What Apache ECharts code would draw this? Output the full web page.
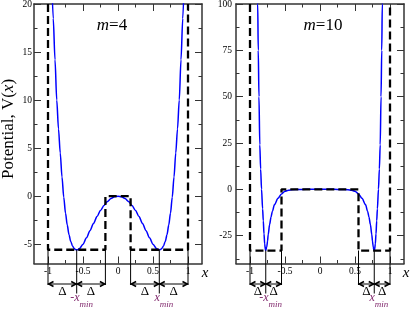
<!DOCTYPE html>
<html><head><meta charset="utf-8">
<script src="https://cdn.jsdelivr.net/npm/echarts@6/dist/echarts.min.js"></script>
<style>html,body{margin:0;padding:0;background:#fff}#c{width:411px;height:310px}</style>
</head><body><div id="c"></div>
<script>
// ---- tick values ----
const xTicks = [-1, -0.5, 0, 0.5, 1];
const xMinorTicks = [-0.75, -0.25, 0.25, 0.75];
const yTicks4 = [-5, 0, 5, 10, 15, 20];
const yMinorTicks4 = [-2.5, 2.5, 7.5, 12.5, 17.5];
const yTicks10 = [-25, 0, 25, 50, 75, 100];
const yMinorTicks10 = [-37.5, -12.5, 12.5, 37.5, 62.5, 87.5];

// ---- m = 4 potential ----
const x4 = [-0.95,-0.925,-0.9,-0.875,-0.85,-0.825,-0.8,-0.775,-0.75,-0.725,-0.7,-0.675,-0.65,-0.625,-0.6,-0.575,-0.55,
  -0.5,-0.45,-0.4,-0.35,-0.3,-0.25,-0.2,-0.15,-0.1,-0.05,0,0.05,0.1,0.15,0.2,0.25,0.3,0.35,0.4,0.45,0.5,
  0.55,0.575,0.6,0.625,0.65,0.675,0.7,0.725,0.75,0.775,0.8,0.825,0.85,0.875,0.9,0.925,0.95];
const v4 = [23.5,18.5,14.2,10.0,7.0,4.5,2.0,-0.1,-1.75,-3.0,-4.0,-4.7,-5.17,-5.45,-5.57,-5.56,-5.45,
  -4.99,-4.33,-3.58,-2.83,-2.12,-1.49,-0.96,-0.54,-0.24,-0.06,0,-0.06,-0.24,-0.54,-0.96,-1.49,-2.12,-2.83,-3.58,-4.33,-4.99,
  -5.45,-5.56,-5.57,-5.45,-5.17,-4.7,-4.0,-3.0,-1.75,-0.1,2.0,4.5,7.0,10.0,14.2,18.5,23.5];
// square-well approximation, m = 4
const wellX4 = [-1, -1, -0.18, -0.18, 0.18, 0.18, 1, 1];
const wellY4 = [20, -5.57, -5.57, 0, 0, -5.57, -5.57, 20];
const xMin4 = 0.59, delta4 = 0.41, wellBottom4 = -5.57;

// ---- m = 10 potential ----
const x10 = [-0.9,-0.89,-0.882,-0.872,-0.86,-0.848,-0.835,-0.82,-0.81,-0.8,-0.79,-0.78,-0.775,-0.77,-0.76,-0.75,-0.74,-0.72,-0.7,-0.68,-0.65,-0.6,-0.55,-0.5,-0.45,-0.4,-0.3,-0.2,
  0,0.2,0.3,0.4,0.45,0.5,0.55,0.6,0.65,0.68,0.7,0.72,0.74,0.75,0.76,0.77,0.775,0.78,0.79,0.8,0.81,0.82,0.835,0.848,0.86,0.872,0.882,0.89,0.9];
const v10 = [130,100,75,50,24,11,0,-10.5,-17,-24,-29.5,-32.5,-33,-32.8,-31,-28,-24.5,-19,-15,-11.8,-8.2,-4.8,-2.5,-1.0,-0.5,-0.2,-0.03,0,
  0,0,-0.03,-0.2,-0.5,-1.0,-2.5,-4.8,-8.2,-11.8,-15,-19,-24.5,-28,-31,-32.8,-33,-32.5,-29.5,-24,-17,-10.5,0,11,24,50,75,100,130];
const wellX10 = [-1, -1, -0.55, -0.55, 0.55, 0.55, 1, 1];
const wellY10 = [100, -33, -33, 0, 0, -33, -33, 100];
const xMin10 = 0.775, delta10 = 0.225, wellBottom10 = -33;

const zip = (a, b) => a.map((v, i) => [v, b[i]]);
const SERIF = '"Liberation Serif", "Times New Roman", serif';
const PURPLE = '#822a6e';
const AXC = '#333';

function xAxes(gi) {
  const base = {type: 'value', gridIndex: gi, min: -1.2, max: 1.2, splitLine: {show: false}};
  return [
    Object.assign({}, base, {position: 'bottom',
      axisLine: {show: true, onZero: false, lineStyle: {color: AXC, width: 1.5}},
      axisTick: {show: true, inside: true, length: 7, customValues: xTicks, lineStyle: {color: AXC, width: 1}},
      axisLabel: {show: true, customValues: xTicks, margin: 3, color: '#000', fontFamily: SERIF, fontSize: 9.5}}),
    Object.assign({}, base, {position: 'bottom',
      axisLine: {show: false, onZero: false},
      axisTick: {show: true, inside: true, length: 3.5, customValues: xMinorTicks, lineStyle: {color: AXC, width: 1}},
      axisLabel: {show: false}}),
    Object.assign({}, base, {position: 'top',
      axisLine: {show: true, onZero: false, lineStyle: {color: AXC, width: 1.5}},
      axisTick: {show: true, inside: true, length: 7, customValues: xTicks, lineStyle: {color: AXC, width: 1}},
      axisLabel: {show: false}}),
    Object.assign({}, base, {position: 'top',
      axisLine: {show: false, onZero: false},
      axisTick: {show: true, inside: true, length: 3.5, customValues: xMinorTicks, lineStyle: {color: AXC, width: 1}},
      axisLabel: {show: false}})
  ];
}
function yAxes(gi, min, max, major, minor, margin) {
  const base = {type: 'value', gridIndex: gi, min: min, max: max, splitLine: {show: false}};
  return [
    Object.assign({}, base, {position: 'left',
      axisLine: {show: true, onZero: false, lineStyle: {color: AXC, width: 1.5}},
      axisTick: {show: true, inside: true, length: 7, customValues: major, lineStyle: {color: AXC, width: 1}},
      axisLabel: {show: true, customValues: major, margin: margin, color: '#000', fontFamily: SERIF, fontSize: 9.5}}),
    Object.assign({}, base, {position: 'left',
      axisLine: {show: false, onZero: false},
      axisTick: {show: true, inside: true, length: 3.5, customValues: minor, lineStyle: {color: AXC, width: 1}},
      axisLabel: {show: false}}),
    Object.assign({}, base, {position: 'right',
      axisLine: {show: true, onZero: false, lineStyle: {color: AXC, width: 1.5}},
      axisTick: {show: true, inside: true, length: 7, customValues: major, lineStyle: {color: AXC, width: 1}},
      axisLabel: {show: false}}),
    Object.assign({}, base, {position: 'right',
      axisLine: {show: false, onZero: false},
      axisTick: {show: true, inside: true, length: 3.5, customValues: minor, lineStyle: {color: AXC, width: 1}},
      axisLabel: {show: false}})
  ];
}

function makeAnnot(xMin, delta, wellBottom, yLow) {
  return function (params, api) {
    const children = [];
    const axisY = api.coord([0, yLow])[1];
    const arrowY = axisY + 20.5;
    const wellY = api.coord([0, wellBottom])[1];
    const px = v => api.coord([v, wellBottom])[0];
    const thin = {stroke: '#000', lineWidth: 1};
    const head = {stroke: '#000', lineWidth: 1.6, fill: null};
    [-1, 1].forEach(function (s) {
      const c = s * xMin;
      const pc = px(c), pl = px(c - delta), ph = px(c + delta);
      [pl, ph].forEach(p => children.push({type: 'line', shape: {x1: p, y1: wellY, x2: p, y2: arrowY + 1}, style: thin}));
      children.push({type: 'line', shape: {x1: pc, y1: wellY, x2: pc, y2: arrowY + 9.5}, style: thin});
      [[pl, pc], [pc, ph]].forEach(function (seg) {
        const a = seg[0], b = seg[1];
        children.push({type: 'line', shape: {x1: a, y1: arrowY, x2: b, y2: arrowY}, style: thin});
        children.push({type: 'polyline', shape: {points: [[a + 5.5, arrowY - 2.5], [a + 0.8, arrowY], [a + 5.5, arrowY + 2.5]]}, style: head});
        children.push({type: 'polyline', shape: {points: [[b - 5.5, arrowY - 2.5], [b - 0.8, arrowY], [b - 5.5, arrowY + 2.5]]}, style: head});
        children.push({type: 'text', x: (a + b) / 2, y: arrowY + 7.5,
          style: {text: 'Δ', font: '13px ' + SERIF, fill: '#000', align: 'center', verticalAlign: 'middle'}});
      });
      const sp = s < 0 ? 2.8 : 0.5;
      children.push({type: 'text', x: pc + sp, y: arrowY + 14,
        style: {text: s < 0 ? '-x' : 'x', font: 'italic 12px ' + SERIF, fill: PURPLE, align: 'right', verticalAlign: 'middle'}});
      children.push({type: 'text', x: pc + sp, y: arrowY + 20.2,
        style: {text: 'min', font: 'italic 9px ' + SERIF, fill: PURPLE, align: 'left', verticalAlign: 'middle'}});
    });
    return {type: 'group', children: children};
  };
}

const chart = echarts.init(document.getElementById('c'), null, {renderer: 'canvas'});
const richT = {
  n: {fontFamily: SERIF, fontSize: 17, color: '#000'},
  i: {fontFamily: SERIF, fontSize: 17, fontStyle: 'italic', color: '#000'}
};
chart.setOption({
  animation: false,
  backgroundColor: '#fff',
  grid: [
    {left: 34, top: 4, width: 168, height: 259.5, outerBoundsMode: 'none', containLabel: false},
    {left: 236, top: 4, width: 168, height: 259.5, outerBoundsMode: 'none', containLabel: false}
  ],
  xAxis: xAxes(0).concat(xAxes(1)),
  yAxis: yAxes(0, -7, 20, yTicks4, yMinorTicks4, 2).concat(yAxes(1, -40, 100, yTicks10, yMinorTicks10, 4)),
  series: [
    {type: 'line', xAxisIndex: 0, yAxisIndex: 0, data: zip(x4, v4), showSymbol: false, smooth: 0.3, smoothMonotone: 'x',
      lineStyle: {color: '#0000ff', width: 1.5}, z: 3},
    {type: 'line', xAxisIndex: 0, yAxisIndex: 0, data: zip(wellX4, wellY4), showSymbol: false,
      lineStyle: {color: '#000', width: 2.3, type: [8, 4]}, z: 4},
    {type: 'custom', xAxisIndex: 0, yAxisIndex: 0, data: [[0, 0]], renderItem: makeAnnot(xMin4, delta4, wellBottom4, -7), clip: false, silent: true, z: 5},
    {type: 'line', xAxisIndex: 4, yAxisIndex: 4, data: zip(x10, v10), showSymbol: false, smooth: 0.3, smoothMonotone: 'x',
      lineStyle: {color: '#0000ff', width: 1.5}, z: 3},
    {type: 'line', xAxisIndex: 4, yAxisIndex: 4, data: zip(wellX10, wellY10), showSymbol: false,
      lineStyle: {color: '#000', width: 2.3, type: [8, 4]}, z: 4},
    {type: 'custom', xAxisIndex: 4, yAxisIndex: 4, data: [[0, 0]], renderItem: makeAnnot(xMin10, delta10, wellBottom10, -40), clip: false, silent: true, z: 5}
  ],
  graphic: [
    {type: 'text', x: 9, y: 129, rotation: Math.PI / 2,
      style: {text: '{n|Potential, V(}{i|x}{n|)}', rich: richT, align: 'center', verticalAlign: 'middle'}},
    {type: 'text', x: 112, y: 26,
      style: {text: '{i|m}{n|=4}', rich: richT, align: 'center', verticalAlign: 'middle'}},
    {type: 'text', x: 323, y: 26,
      style: {text: '{i|m}{n|=10}', rich: richT, align: 'center', verticalAlign: 'middle'}},
    {type: 'text', x: 205, y: 273.5,
      style: {text: 'x', font: 'italic 15px ' + SERIF, fill: '#000', align: 'center', verticalAlign: 'middle'}},
    {type: 'text', x: 406, y: 273.5,
      style: {text: 'x', font: 'italic 15px ' + SERIF, fill: '#000', align: 'center', verticalAlign: 'middle'}}
  ]
});
</script></body></html>
